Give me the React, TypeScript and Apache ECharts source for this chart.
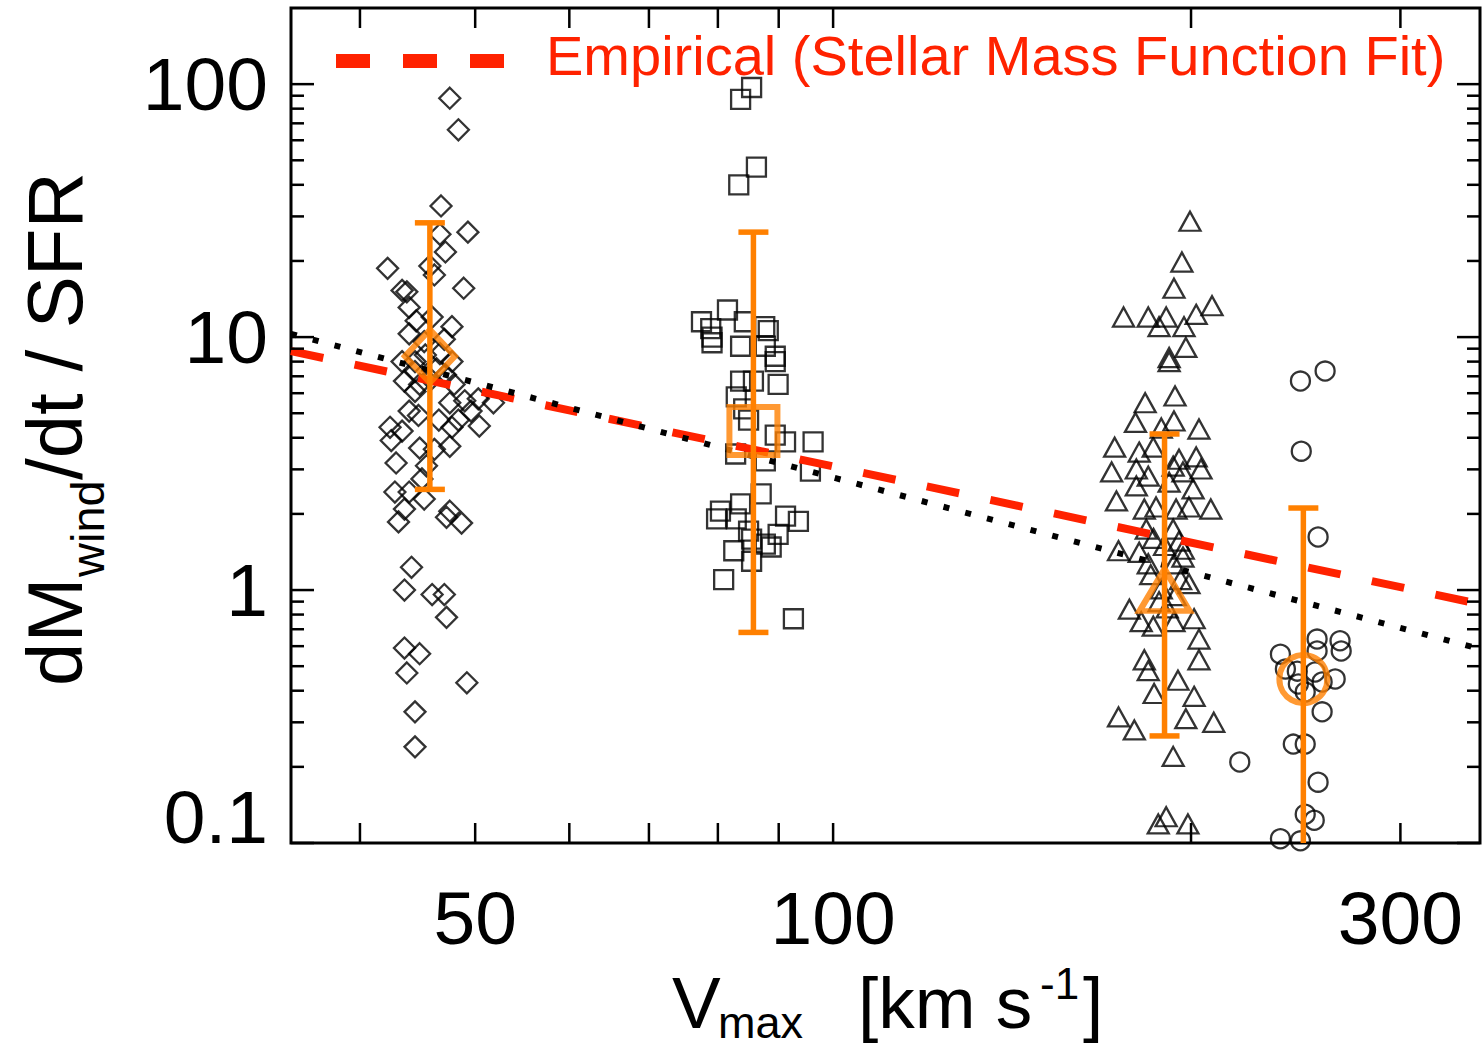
import React, { useEffect, useRef } from 'react'
import * as echarts from 'echarts'

const FONT = '"Liberation Sans", Arial, Helvetica, sans-serif'
const ORANGE = '#ff8000'
const RED = '#ff2200'

// axis ranges
const X_MIN = 35
const X_MAX = 350
const Y_MIN = 0.1
const Y_MAX = 200

// ticks and labels
const xTickValues = [40, 50, 60, 70, 80, 90, 100, 200, 300]
const xLabelValues = [50, 100, 300]
const yMajorValues = [0.1, 1, 10, 100]
const yMinorValues = [
  0.2, 0.3, 0.4, 0.5, 0.6, 0.7, 0.8, 0.9,
  2, 3, 4, 5, 6, 7, 8, 9,
  20, 30, 40, 50, 60, 70, 80, 90,
]

// galaxies, [Vmax, dM/dt / SFR]
const diamondPoints = [
  [47.6, 88], [48.4, 66], [46.8, 33], [49.3, 26], [46.7, 25.5], [47.2, 21.7], [42.2, 18.7],
  [45.8, 19.1], [46.2, 17.6], [48.9, 15.6], [43.4, 15.3], [43.8, 15.1], [44.0, 13.1],
  [46.0, 12.0], [44.6, 11.6], [47.8, 11.0], [44.0, 10.3], [47.1, 9.8], [45.3, 9.6],
  [43.4, 8.0], [47.8, 8.0], [44.5, 7.3], [46.4, 7.5], [45.4, 8.5], [46.7, 8.6], [44.5, 8.0],
  [45.9, 6.8], [47.2, 7.1], [44.9, 6.5], [43.6, 6.7], [44.5, 6.1], [48.0, 6.5], [47.6, 5.5],
  [49.0, 5.6], [50.3, 5.7], [51.8, 5.5], [44.0, 5.1], [44.8, 4.9], [46.6, 4.7], [48.4, 4.7],
  [49.6, 5.1], [42.4, 4.4], [43.4, 4.25], [47.8, 4.4], [50.4, 4.45], [42.5, 3.9], [44.9, 3.64],
  [46.2, 3.6], [47.6, 3.7], [42.9, 3.18], [45.5, 3.1], [45.1, 2.75], [42.8, 2.44], [44.0, 2.44],
  [45.3, 2.29], [43.6, 2.09], [43.1, 1.86], [47.6, 2.05], [47.3, 1.94], [48.7, 1.84],
  [44.2, 1.23], [43.6, 1.0], [46.0, 0.96], [47.1, 0.96], [47.3, 0.78], [43.6, 0.59],
  [44.9, 0.56], [43.8, 0.47], [49.2, 0.43], [44.5, 0.33], [44.5, 0.24],
]
const squarePoints = [
  [85.4, 97], [83.6, 87], [86.2, 47], [83.3, 40], [77.5, 11.5], [81.5, 12.8], [78.9, 10.8],
  [79.1, 10.0], [84.2, 11.5], [87.6, 11.0], [88.2, 10.6], [83.6, 9.2], [87.7, 9.2], [89.4, 8.4],
  [79.1, 9.5], [89.4, 8.0], [83.6, 6.7], [85.7, 6.7], [89.9, 6.5], [82.9, 5.8], [84.1, 5.2],
  [84.9, 4.7], [89.4, 4.1], [91.2, 3.85], [96.2, 3.85], [82.8, 3.45], [87.7, 3.24], [95.7, 2.95],
  [87.0, 2.4], [83.6, 2.19], [80.4, 2.05], [79.8, 1.91], [82.9, 1.91], [91.2, 1.96], [93.5, 1.87],
  [84.9, 1.71], [85.4, 1.59], [89.9, 1.66], [87.7, 1.52], [82.5, 1.43], [88.7, 1.48],
  [85.4, 1.30], [80.9, 1.1], [92.6, 0.77],
]
const trianglePoints = [
  [199.6, 28.7], [196.5, 19.8], [193.5, 15.6], [208.3, 13.3], [175.5, 12.0], [184.1, 12.0],
  [190.6, 12.0], [202.0, 12.3], [188.0, 11.0], [197.3, 11.0], [198.0, 9.1], [191.7, 8.3],
  [191.7, 8.0], [193.9, 5.85], [183.0, 5.5], [179.6, 4.6], [193.5, 4.66], [203.1, 4.33],
  [188.8, 4.37], [172.5, 3.67], [180.9, 3.51], [185.9, 3.67], [202.0, 3.36], [171.5, 2.93],
  [179.9, 3.01], [184.1, 2.82], [196.9, 2.93], [203.9, 3.01], [179.9, 2.58], [191.7, 2.67],
  [200.8, 2.51], [173.1, 2.25], [182.7, 2.09], [186.9, 2.13], [194.3, 2.09], [199.2, 2.13],
  [207.8, 2.09], [193.2, 3.09], [195.4, 3.29], [183.4, 1.74], [193.2, 1.74], [195.4, 1.56],
  [173.8, 1.43], [180.9, 1.41], [184.1, 1.27], [196.9, 1.35], [193.5, 1.27], [199.2, 1.06],
  [188.8, 1.01], [190.0, 1.5], [186.0, 1.6], [197.0, 1.45], [188.0, 0.9], [194.0, 0.95],
  [191.0, 0.85], [196.0, 1.1], [185.0, 1.15], [177.5, 0.84], [181.6, 0.75], [185.9, 0.72],
  [193.5, 0.75], [201.2, 0.77], [203.1, 0.64], [203.1, 0.53], [182.7, 0.53], [184.1, 0.48],
  [195.0, 0.44], [186.2, 0.39], [201.2, 0.38], [173.8, 0.315], [198.0, 0.31], [209.0, 0.30],
  [179.2, 0.28], [193.2, 0.22], [187.7, 0.119], [190.6, 0.127], [198.8, 0.119],
]
const circlePoints = [
  [247.2, 6.7], [259.3, 7.34], [247.6, 3.54], [255.8, 1.62], [255.3, 0.64], [266.9, 0.63],
  [267.5, 0.574], [237.8, 0.558], [255.3, 0.574], [240.1, 0.487], [245.7, 0.478], [254.3, 0.474],
  [264.4, 0.445], [246.2, 0.425], [257.8, 0.433], [249.5, 0.395], [257.8, 0.33], [243.8, 0.246],
  [249.5, 0.246], [219.8, 0.209], [255.8, 0.174], [249.5, 0.13], [253.9, 0.123], [237.8, 0.104],
  [247.2, 0.102],
]

// medians with error bars
const summaryPoints = [[45.8, 8.4], [85.7, 4.25], [190, 1.0], [248.6, 0.445]]
const errorLow = [2.5, 0.68, 0.265, 0.08]
const errorHigh = [28.3, 26, 4.14, 2.11]

// fit lines (end points)
const empiricalFit = [[35, 8.8], [350, 0.88]]
const dottedFit = [[35, 10.3], [350, 0.585]]

const summarySymbols = [
  { symbol: 'diamond', size: [50, 53] },
  { symbol: 'rect', size: [48, 48] },
  { symbol: 'triangle', size: [50, 42] },
  { symbol: 'circle', size: [48, 48] },
]

const hollow = (borderColor: string, borderWidth: number) => ({
  color: 'rgba(0,0,0,0)',
  borderColor,
  borderWidth,
})

const App: React.FC = () => {
  const chartRef = useRef<HTMLDivElement>(null)

  useEffect(() => {
    document.body.style.margin = '0'
    if (!chartRef.current) return
    const chart = echarts.init(chartRef.current, undefined, { renderer: 'svg' })

    const tickStyle = { stroke: '#000', lineWidth: 2.5 }

    const option: echarts.EChartsOption = {
      animation: false,
      backgroundColor: '#fff',
      grid: {
        left: 291,
        top: 8,
        right: 2,
        bottom: 208,
        show: true,
        borderColor: '#000',
        borderWidth: 3,
        backgroundColor: 'transparent',
      },
      xAxis: {
        type: 'log',
        logBase: 10,
        min: X_MIN,
        max: X_MAX,
        axisLine: { show: false },
        axisTick: { show: false },
        axisLabel: { show: false },
        splitLine: { show: false },
      },
      yAxis: {
        type: 'log',
        logBase: 10,
        min: Y_MIN,
        max: Y_MAX,
        axisLine: { show: false },
        axisTick: { show: false },
        axisLabel: { show: false },
        splitLine: { show: false },
      },
      graphic: [
        // legend
        {
          type: 'line',
          shape: { x1: 336, y1: 61, x2: 506, y2: 61 },
          style: { stroke: RED, lineWidth: 14, lineDash: [34, 33] },
        },
        {
          type: 'text',
          x: 546,
          y: 55,
          style: {
            text: 'Empirical (Stellar Mass Function Fit)',
            fontSize: 56,
            fontFamily: FONT,
            fill: RED,
            align: 'left',
            verticalAlign: 'middle',
          },
        },
        // y title
        {
          type: 'group',
          x: 55,
          y: 686,
          rotation: Math.PI / 2,
          children: [
            { type: 'text', x: 0, y: 0, style: { text: 'dM', fontSize: 78, fontFamily: FONT, fill: '#000', verticalAlign: 'middle' } },
            { type: 'text', x: 109, y: 32, style: { text: 'wind', fontSize: 47, fontFamily: FONT, fill: '#000', verticalAlign: 'middle' } },
            { type: 'text', x: 206, y: 0, style: { text: '/dt / SFR', fontSize: 78, fontFamily: FONT, fill: '#000', verticalAlign: 'middle' } },
          ],
        },
        // x title
        { type: 'text', x: 672, y: 1002, style: { text: 'V', fontSize: 73, fontFamily: FONT, fill: '#000', verticalAlign: 'middle' } },
        { type: 'text', x: 718, y: 1022, style: { text: 'max', fontSize: 45, fontFamily: FONT, fill: '#000', verticalAlign: 'middle' } },
        { type: 'text', x: 858, y: 1002, style: { text: '[km s', fontSize: 73, fontFamily: FONT, fill: '#000', verticalAlign: 'middle' } },
        { type: 'text', x: 1040, y: 983, style: { text: '-1', fontSize: 44, fontFamily: FONT, fill: '#000', verticalAlign: 'middle' } },
        { type: 'text', x: 1083, y: 1002, style: { text: ']', fontSize: 73, fontFamily: FONT, fill: '#000', verticalAlign: 'middle' } },
      ],
      series: [
        {
          type: 'scatter',
          data: diamondPoints,
          symbol: 'diamond',
          symbolSize: 21,
          itemStyle: hollow('#000', 2.3),
          silent: true,
          z: 2,
        },
        {
          type: 'scatter',
          data: squarePoints,
          symbol: 'rect',
          symbolSize: 19,
          itemStyle: hollow('#000', 2.3),
          silent: true,
          z: 2,
        },
        {
          type: 'scatter',
          data: trianglePoints,
          symbol: 'triangle',
          symbolSize: [21, 19],
          itemStyle: hollow('#000', 2.3),
          silent: true,
          z: 2,
        },
        {
          type: 'scatter',
          data: circlePoints,
          symbol: 'circle',
          symbolSize: 19,
          itemStyle: hollow('#000', 2.3),
          silent: true,
          z: 2,
        },
        {
          type: 'line',
          data: empiricalFit,
          showSymbol: false,
          lineStyle: { color: RED, width: 8, type: [33, 32], cap: 'butt' },
          silent: true,
          z: 3,
        },
        {
          type: 'line',
          data: dottedFit,
          showSymbol: false,
          lineStyle: { color: '#000', width: 6, type: [6, 16.5], cap: 'butt' },
          silent: true,
          z: 3,
        },
        // error bars
        {
          type: 'custom',
          data: summaryPoints.map((p, i) => [p[0], errorLow[i], errorHigh[i]]),
          encode: { x: 0, y: [1, 2] },
          silent: true,
          z: 4,
          renderItem: (params: any, api: any) => {
            const cs = params.coordSys
            const lowVal = api.value(1)
            const clipped = lowVal < Y_MIN
            const top = api.coord([api.value(0), api.value(2)])
            const bot = api.coord([api.value(0), clipped ? Y_MIN : lowVal])
            const style = { stroke: ORANGE, lineWidth: 5.5 }
            const children: any[] = [
              { type: 'line', shape: { x1: top[0], y1: top[1], x2: bot[0], y2: Math.min(bot[1], cs.y + cs.height) }, style },
              { type: 'line', shape: { x1: top[0] - 15, y1: top[1], x2: top[0] + 15, y2: top[1] }, style },
            ]
            if (!clipped) {
              children.push({ type: 'line', shape: { x1: bot[0] - 15, y1: bot[1], x2: bot[0] + 15, y2: bot[1] }, style })
            }
            return { type: 'group', children }
          },
        },
        {
          type: 'scatter',
          data: summaryPoints.map((p, i) => ({
            value: p,
            symbol: summarySymbols[i].symbol,
            symbolSize: summarySymbols[i].size,
          })),
          itemStyle: hollow(ORANGE, 6),
          silent: true,
          z: 5,
        },
        // x ticks (bottom and top)
        {
          type: 'custom',
          data: xTickValues.map((v) => [v, Y_MIN]),
          silent: true,
          z: 6,
          renderItem: (params: any, api: any) => {
            const cs = params.coordSys
            const x = api.coord([api.value(0), Y_MIN])[0]
            const bottom = cs.y + cs.height
            return {
              type: 'group',
              children: [
                { type: 'line', shape: { x1: x, y1: bottom, x2: x, y2: bottom - 20 }, style: tickStyle },
                { type: 'line', shape: { x1: x, y1: cs.y, x2: x, y2: cs.y + 20 }, style: tickStyle },
              ],
            }
          },
        },
        // y ticks (left and right)
        {
          type: 'custom',
          data: [
            ...yMajorValues.map((v) => [X_MIN, v, 1]),
            ...yMinorValues.map((v) => [X_MIN, v, 0]),
          ],
          silent: true,
          z: 6,
          renderItem: (params: any, api: any) => {
            const cs = params.coordSys
            const y = api.coord([X_MIN, api.value(1)])[1]
            const len = api.value(2) ? 23 : 13
            const right = cs.x + cs.width
            return {
              type: 'group',
              children: [
                { type: 'line', shape: { x1: cs.x, y1: y, x2: cs.x + len, y2: y }, style: tickStyle },
                { type: 'line', shape: { x1: right, y1: y, x2: right - len, y2: y }, style: tickStyle },
              ],
            }
          },
        },
        // x tick labels
        {
          type: 'custom',
          data: xLabelValues.map((v) => [v, Y_MIN]),
          silent: true,
          z: 6,
          renderItem: (params: any, api: any) => {
            const cs = params.coordSys
            const v = api.value(0)
            const x = api.coord([v, Y_MIN])[0]
            return {
              type: 'text',
              x,
              y: cs.y + cs.height + 75,
              style: { text: String(v), fontSize: 75, fontFamily: FONT, fill: '#000', align: 'center', verticalAlign: 'middle' },
            }
          },
        },
        // y tick labels
        {
          type: 'custom',
          data: yMajorValues.map((v) => [X_MIN, v]),
          silent: true,
          z: 6,
          renderItem: (params: any, api: any) => {
            const cs = params.coordSys
            const v = api.value(1)
            let y = api.coord([X_MIN, v])[1]
            if (v <= Y_MIN) y -= 26
            return {
              type: 'text',
              x: cs.x - 23,
              y,
              style: { text: String(v), fontSize: 75, fontFamily: FONT, fill: '#000', align: 'right', verticalAlign: 'middle' },
            }
          },
        },
      ],
    }

    chart.setOption(option)
    return () => {
      chart.dispose()
    }
  }, [])

  return <div ref={chartRef} style={{ width: 1482, height: 1051 }} />
}

export default App
